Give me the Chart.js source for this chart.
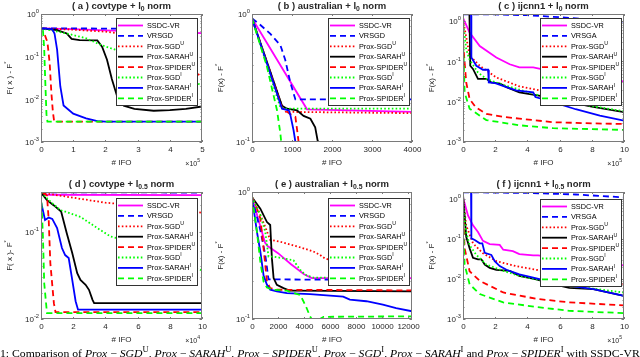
<!DOCTYPE html>
<html>
<head>
<meta charset="utf-8">
<script src="https://cdn.jsdelivr.net/npm/chart.js@4.4.1/dist/chart.umd.min.js"></script>
<style>
    html, body { margin: 0; padding: 0; background: #fff; }
    #fig { position: relative; width: 640px; height: 357px; overflow: hidden; }
    #fig canvas { position: absolute; }
    #caption {
        position: absolute; left: 0; top: 347px; white-space: nowrap;
        font: 11px "Liberation Serif", "DejaVu Serif", serif; line-height: 12px; color: #000;
        transform-origin: 0 0;
    }
    #caption sup { font-size: 8px; line-height: 0; }
</style>
</head>
<body>
<div id="fig">
    <canvas id="pa"></canvas>
    <canvas id="pb"></canvas>
    <canvas id="pc"></canvas>
    <canvas id="pd"></canvas>
    <canvas id="pe"></canvas>
    <canvas id="pf"></canvas>
    <div id="caption">1: Comparison of <i>Prox</i> − <i>SGD</i><sup>U</sup>, <i>Prox</i> − <i>SARAH</i><sup>U</sup>, <i>Prox</i> − <i>SPIDER</i><sup>U</sup>, <i>Prox</i> − <i>SGD</i><sup>I</sup>, <i>Prox</i> − <i>SARAH</i><sup>I</sup> and <i>Prox</i> − <i>SPIDER</i><sup>I</sup> with SSDC-VR</div>
</div>
<script>
// ---- data: [x, F(x)-F*] points ----
// legend labels (^ = superscript)
const LABELS = ['SSDC-VR', 'VRSGD', 'Prox-SGD^U', 'Prox-SARAH^U', 'Prox-SPIDER^U', 'Prox-SGD^I', 'Prox-SARAH^I', 'Prox-SPIDER^I'];
const LABELS_IJCNN = ['SSDC-VR', 'VRSGA', 'Prox-SGD^U', 'Prox-SARAH^U', 'Prox-SPIDER^U', 'Prox-SGD^I', 'Prox-SARAH^I', 'Prox-SPIDER^I'];

// (a) covtype + l0, x in 1e5 IFO
const A_SSDC = [[0, 0.46], [1, 0.44], [2, 0.415], [3, 0.39], [4, 0.37], [5, 0.355]];
const A_VRSGD = [[0, 0.46], [5, 0.45]];
const A_SGD_U = [[0, 0.46], [1, 0.43], [2, 0.385], [2.3, 0.36], [3, 0.24], [3.5, 0.16], [4, 0.1], [4.5, 0.06], [5, 0.034]];
const A_SARAH_U = [[0, 0.46], [0.5, 0.42], [0.8, 0.35], [0.95, 0.26], [1.2, 0.245], [1.75, 0.24], [1.9, 0.17], [2.05, 0.085], [2.2, 0.03], [2.36, 0.012], [2.57, 0.0071], [2.9, 0.006], [3.5, 0.0054], [4, 0.0056], [4.5, 0.006], [5, 0.0068]];
const A_SPIDER_U = [[0.12, 0.32], [0.2, 0.22], [0.27, 0.07], [0.32, 0.015], [0.37, 0.005], [0.41, 0.003], [5, 0.003]];
const A_SGD_I = [[0, 0.46], [0.8, 0.35], [1.4, 0.27], [1.85, 0.19], [2.3, 0.146], [3, 0.095], [3.5, 0.07], [4, 0.048], [4.5, 0.032], [5, 0.021]];
const A_SARAH_I = [[0, 0.46], [0.35, 0.44], [0.42, 0.35], [0.5, 0.146], [0.6, 0.02], [0.7, 0.0072], [1, 0.0046], [1.4, 0.0036], [1.75, 0.0031], [2, 0.003], [5, 0.003]];
const A_SPIDER_I = [[0.06, 0.42], [0.1, 0.15], [0.13, 0.03], [0.17, 0.0045], [0.2, 0.003], [5, 0.003]];

// (b) australian + l0
const B_SSDC = [[0, 0.925], [1375, 0.18], [4000, 0.172]];
const B_VRSGD = [[0, 0.925], [210, 0.82], [460, 0.7], [710, 0.57], [830, 0.44], [960, 0.29], [1085, 0.215], [4000, 0.215]];
const B_SGD_U = [[0, 0.925], [750, 0.19], [850, 0.172], [4000, 0.168]];
const B_SARAH_U = [[0, 0.925], [750, 0.192], [875, 0.182], [1125, 0.177], [1290, 0.16], [1460, 0.152], [1580, 0.13], [1640, 0.103], [1660, 0.1], [4000, 0.1]];
const B_SPIDER_U = [[0, 0.925], [750, 0.185], [960, 0.165], [1085, 0.157], [1140, 0.116], [1165, 0.1], [4000, 0.1]];
const B_SGD_I = [[0, 0.925], [710, 0.186], [800, 0.182], [4000, 0.182]];
const B_SARAH_I = [[0, 0.925], [750, 0.182], [920, 0.177], [960, 0.162], [1040, 0.123], [1085, 0.1], [4000, 0.1]];
const B_SPIDER_I = [[0, 0.925], [375, 0.386], [625, 0.177], [710, 0.116], [730, 0.1], [4000, 0.1]];

// (c) ijcnn1 + l0, x in 1e5 IFO
const C_SSDC = [[0, 1.2], [0.41, 0.52], [1.04, 0.24], [2.07, 0.125], [2.9, 0.085], [3.5, 0.071], [4.36, 0.071], [4.8, 0.065], [6, 0.052], [7, 0.045], [8, 0.04], [9, 0.035], [10, 0.032]];
const C_VRSGA = [[0, 1.48], [2, 1.46], [4, 1.4], [6, 1.25], [8, 1.08], [10, 0.94]];
const C_SGD_U = [[0, 1.1], [0.41, 0.14], [1.04, 0.078], [2.07, 0.04], [3.5, 0.024], [4.8, 0.019], [6, 0.018], [8, 0.0168], [10, 0.0158]];
const C_SARAH_U = [[0, 1.5], [0.4, 1.5], [0.45, 0.078], [0.62, 0.065], [0.93, 0.037], [1.45, 0.037], [1.76, 0.03], [2.3, 0.028], [2.7, 0.023], [3.5, 0.017], [4.8, 0.014], [6, 0.011], [8, 0.0075], [10, 0.0055]];
const C_SPIDER_U = [[0, 0.3], [0.2, 0.03], [0.41, 0.0117], [0.8, 0.0072], [1.45, 0.005], [2.5, 0.0042], [3.5, 0.0038], [5.6, 0.0031], [8, 0.0029], [10, 0.0028]];
const C_SGD_I = [[0, 1.0], [0.2, 0.2], [0.41, 0.11], [0.93, 0.053], [1.45, 0.037], [2.5, 0.026], [3.5, 0.02], [4.8, 0.014], [6, 0.011], [8, 0.0078], [10, 0.0058]];
const C_SARAH_I = [[0, 1.5], [0.5, 1.5], [0.52, 0.125], [0.83, 0.078], [1.24, 0.062], [1.56, 0.062], [1.6, 0.03], [2, 0.029], [2.7, 0.023], [3.3, 0.019], [4.36, 0.017], [4.5, 0.013], [5.6, 0.0098], [7, 0.0065], [8.5, 0.0045], [10, 0.0034]];
const C_SPIDER_I = [[0, 0.43], [0.1, 0.017], [0.41, 0.0067], [1.45, 0.0035], [3.5, 0.0026], [5.6, 0.0022], [10, 0.002]];

// (d) covtype + l0.5, x in 1e4 IFO
const D_SSDC = [[0, 0.265], [10, 0.262]];
const D_VRSGD = [[0, 0.283], [10, 0.281]];
const D_SGD_U = [[0, 0.28], [2, 0.245], [4, 0.215], [6, 0.2], [8, 0.185], [10, 0.165]];
const D_SARAH_U = [[0, 0.28], [0.37, 0.23], [0.8, 0.2], [1.25, 0.17], [1.6, 0.096], [1.94, 0.057], [2.25, 0.0335], [2.45, 0.028], [2.77, 0.0247], [2.98, 0.0216], [3.2, 0.0166], [3.3, 0.0152], [10, 0.0152]];
const D_SPIDER_U = [[0.1, 0.28], [0.37, 0.26], [0.48, 0.136], [0.58, 0.0435], [0.8, 0.0152], [0.9, 0.012], [10, 0.012]];
const D_SGD_I = [[0, 0.28], [0.6, 0.22], [1.2, 0.177], [2.45, 0.148], [3.5, 0.11], [4.33, 0.088], [5, 0.082], [6, 0.07], [7, 0.06], [8, 0.05], [9, 0.043], [10, 0.036]];
const D_SARAH_I = [[0, 0.22], [0.25, 0.136], [0.48, 0.145], [0.7, 0.14], [1.0, 0.11], [1.3, 0.065], [1.5, 0.054], [1.72, 0.05], [1.94, 0.028], [2.15, 0.016], [2.3, 0.0128], [10, 0.0128]];
const D_SPIDER_I = [[0, 0.28], [0.12, 0.088], [0.2, 0.0257], [0.37, 0.0117], [10, 0.0117]];

// (e) australian + l0.5
const E_SSDC = [[0, 0.91], [1000, 0.4], [1200, 0.375], [2000, 0.33], [3000, 0.27], [4000, 0.225], [4600, 0.21], [12300, 0.21]];
const E_VRSGD = [[0, 0.91], [640, 0.5], [1020, 0.32], [1270, 0.205], [11600, 0.203], [11700, 0.19], [12300, 0.19]];
const E_SGD_U = [[0, 0.91], [640, 0.66], [1020, 0.53], [1400, 0.42], [2170, 0.406], [3190, 0.38], [3950, 0.36], [4720, 0.34], [5220, 0.32], [5600, 0.3], [6500, 0.28], [8000, 0.26], [10000, 0.235], [12300, 0.212]];
const E_SARAH_U = [[0, 0.91], [640, 0.74], [1150, 0.58], [1400, 0.55], [1530, 0.3], [1660, 0.21], [1910, 0.186], [2420, 0.175], [2930, 0.167], [12300, 0.165]];
const E_SPIDER_U = [[0, 0.91], [380, 0.74], [640, 0.62], [890, 0.36], [1150, 0.197], [1400, 0.175], [1910, 0.17], [12300, 0.168]];
const E_SGD_I = [[0, 0.91], [640, 0.66], [1020, 0.486], [1270, 0.31], [1660, 0.31], [2420, 0.3], [3190, 0.29], [3440, 0.266], [3820, 0.236], [4200, 0.22], [4720, 0.212], [12300, 0.21]];
const E_SARAH_I = [[0, 0.91], [380, 0.486], [640, 0.34], [890, 0.22], [1150, 0.186], [1400, 0.17], [1910, 0.165], [2680, 0.16], [4460, 0.157], [7010, 0.15], [7520, 0.142], [8790, 0.138], [10060, 0.13], [11080, 0.122], [12300, 0.115]];
const E_SPIDER_I = [[0, 0.91], [380, 0.486], [640, 0.283], [890, 0.197], [1150, 0.177], [1660, 0.17], [2680, 0.167], [3190, 0.16], [3700, 0.155], [3950, 0.138], [4200, 0.122], [4460, 0.105], [4590, 0.1], [5220, 0.1], [5500, 0.104], [12300, 0.105]];

// (f) ijcnn1 + l0.5, x in 1e5 IFO
const F_SSDC = [[0, 1.1], [0.31, 0.39], [0.62, 0.22], [0.93, 0.15], [1.24, 0.09], [1.66, 0.075], [2.28, 0.071], [2.5, 0.054], [3.1, 0.05], [3.5, 0.042], [4.36, 0.039], [4.67, 0.039], [6, 0.033], [8, 0.027], [10, 0.022]];
const F_VRSGA = [[0, 1.48], [4, 1.42], [7, 1.3], [10, 1.1]];
const F_SGD_U = [[0, 1.1], [0.2, 0.22], [0.62, 0.078], [1.24, 0.044], [2.07, 0.028], [3.3, 0.021], [4.56, 0.017], [6, 0.014], [8, 0.01], [10, 0.0075]];
const F_SARAH_U = [[0, 1.3], [0.2, 0.114], [0.41, 0.059], [0.62, 0.034], [0.93, 0.031], [1.14, 0.031], [1.35, 0.023], [1.66, 0.019], [2.07, 0.017], [2.9, 0.016], [3.5, 0.012], [4.56, 0.0098], [5.6, 0.0074], [6.6, 0.006], [8.1, 0.0056], [10, 0.0038]];
const F_SPIDER_U = [[0, 0.57], [0.1, 0.059], [0.41, 0.0157], [1.04, 0.009], [2.5, 0.0046], [4.56, 0.0032], [6.6, 0.0026], [10, 0.0022]];
const F_SGD_I = [[0, 0.69], [0.2, 0.15], [0.41, 0.07], [0.83, 0.04], [1.45, 0.023], [2.5, 0.016], [3.5, 0.012], [4.56, 0.0098], [6.6, 0.0068], [10, 0.0046]];
const F_SARAH_I = [[0, 1.5], [0.5, 1.5], [0.52, 0.104], [0.73, 0.095], [1.04, 0.078], [1.2, 0.078], [1.35, 0.045], [1.76, 0.04], [1.97, 0.028], [2.28, 0.021], [2.7, 0.017], [3.5, 0.013], [4.36, 0.0108], [5.6, 0.0082], [6.6, 0.0068], [8.1, 0.0056], [10, 0.0038]];
const F_SPIDER_I = [[0, 0.32], [0.1, 0.023], [0.41, 0.0074], [1.04, 0.0042], [2.5, 0.0026], [4.56, 0.002], [6.6, 0.0016], [10, 0.0014]];

// tick values
const X_TICKS_A = [0, 1, 2, 3, 4, 5];
const X_TICKS_B = [0, 1000, 2000, 3000, 4000];
const X_TICKS_10 = [0, 2, 4, 6, 8, 10];
const X_TICKS_E = [0, 2000, 4000, 6000, 8000, 10000, 12000];
const Y_TICKS_4 = [1, 0.1, 0.01, 0.001];
const Y_TICKS_B = [1, 0.1];
const Y_TICKS_D = [0.1, 0.01];

// line styles, same order as LABELS
const STYLES = [
    { color: '#ff00ff', dash: [] },
    { color: '#0000ff', dash: [6, 4] },
    { color: '#ff0000', dash: [1.6, 2.2] },
    { color: '#000000', dash: [] },
    { color: '#ff0000', dash: [6, 4] },
    { color: '#00ff00', dash: [1.6, 2.2] },
    { color: '#0000ff', dash: [] },
    { color: '#00ff00', dash: [6, 4] }
];

const AXIS = '#262626';
const FONT = '"Liberation Sans", Arial, Helvetica, sans-serif';

// L/T/R/B = plot box on the page
const PANELS = [
    { id: 'pa', L: 41, T: 14, R: 202, B: 142, title: '( a ) covtype + l_0 norm', ylab: 'F( x ) - F^*', xMax: 5, xTicks: X_TICKS_A, yMin: 0.001, yMax: 1, yTicks: Y_TICKS_4, mult: '×10^5', labels: LABELS, lg: [86, 4],
      series: [A_SSDC, A_VRSGD, A_SGD_U, A_SARAH_U, A_SPIDER_U, A_SGD_I, A_SARAH_I, A_SPIDER_I] },
    { id: 'pb', L: 252, T: 14, R: 412, B: 142, title: '( b ) australian + l_0 norm', ylab: 'F(x) - F^*', xMax: 4000, xTicks: X_TICKS_B, yMin: 0.1, yMax: 1, yTicks: Y_TICKS_B, mult: null, labels: LABELS, lg: [84, 4],
      series: [B_SSDC, B_VRSGD, B_SGD_U, B_SARAH_U, B_SPIDER_U, B_SGD_I, B_SARAH_I, B_SPIDER_I] },
    { id: 'pc', L: 463, T: 14, R: 624, B: 142, title: '( c ) ijcnn1 + l_0 norm', ylab: 'F(x) - F^*', xMax: 10, xTicks: X_TICKS_10, yMin: 0.001, yMax: 1.5, yTicks: Y_TICKS_4, mult: '×10^5', labels: LABELS_IJCNN, lg: [84, 4],
      series: [C_SSDC, C_VRSGA, C_SGD_U, C_SARAH_U, C_SPIDER_U, C_SGD_I, C_SARAH_I, C_SPIDER_I] },
    { id: 'pd', L: 41, T: 192, R: 202, B: 319, title: '( d ) covtype + l_{0.5} norm', ylab: 'F( x )- F^*', xMax: 10, xTicks: X_TICKS_10, yMin: 0.01, yMax: 0.285, yTicks: Y_TICKS_D, mult: '×10^4', labels: LABELS, lg: [86, 6],
      series: [D_SSDC, D_VRSGD, D_SGD_U, D_SARAH_U, D_SPIDER_U, D_SGD_I, D_SARAH_I, D_SPIDER_I] },
    { id: 'pe', L: 252, T: 192, R: 412, B: 319, title: '( e ) australian + l_{0.5} norm', ylab: 'F(x) - F^*', xMax: 12300, xTicks: X_TICKS_E, yMin: 0.1, yMax: 1, yTicks: Y_TICKS_B, mult: null, labels: LABELS, lg: [84, 6],
      series: [E_SSDC, E_VRSGD, E_SGD_U, E_SARAH_U, E_SPIDER_U, E_SGD_I, E_SARAH_I, E_SPIDER_I] },
    { id: 'pf', L: 463, T: 192, R: 624, B: 319, title: '( f ) ijcnn1 + l_{0.5} norm', ylab: 'F(x) - F^*', xMax: 10, xTicks: X_TICKS_10, yMin: 0.001, yMax: 1.5, yTicks: Y_TICKS_4, mult: '×10^5', labels: LABELS_IJCNN, lg: [84, 7],
      series: [F_SSDC, F_VRSGA, F_SGD_U, F_SARAH_U, F_SPIDER_U, F_SGD_I, F_SARAH_I, F_SPIDER_I] }
];

/**
 * Split a label into normal / superscript / subscript runs.
 * "l_{0.5}" -> l + sub(0.5), "F^*" -> F + sup(*)
 */
function parseRich(str) {
    const parts = [];
    let buf = '';
    let i = 0;
    while (i < str.length) {
        const c = str[i];
        if (c === '^' || c === '_') {
            if (buf) parts.push({ t: buf, k: 0 });
            buf = '';
            let s;
            if (str[i + 1] === '{') {
                const j = str.indexOf('}', i);
                s = str.slice(i + 2, j);
                i = j + 1;
            } else {
                s = str[i + 1];
                i += 2;
            }
            parts.push({ t: s, k: c === '^' ? 1 : -1 });
        } else {
            buf += c;
            i++;
        }
    }
    if (buf) parts.push({ t: buf, k: 0 });
    return parts;
}

function drawRich(ctx, str, x, y, size, bold, align) {
    const parts = parseRich(str);
    const fnt = s => (bold ? 'bold ' : '') + s + 'px ' + FONT;
    let w = 0;
    parts.forEach(p => {
        p.size = p.k ? size * 0.72 : size;
        ctx.font = fnt(p.size);
        p.w = ctx.measureText(p.t).width;
        w += p.w;
    });
    let cx = align === 'center' ? x - w / 2 : (align === 'right' ? x - w : x);
    ctx.textAlign = 'left';
    ctx.textBaseline = 'middle';
    parts.forEach(p => {
        ctx.font = fnt(p.size);
        const dy = p.k === 1 ? -size * 0.42 : (p.k === -1 ? size * 0.32 : 0);
        ctx.fillText(p.t, cx, y + dy);
        cx += p.w;
    });
    return w;
}

// MATLAB-like axes box, ticks, labels and legend
function overlay(p) {
    return {
        id: 'overlay',
        afterDraw(chart) {
            const ctx = chart.ctx;
            const a = chart.chartArea;
            const xs = chart.scales.x;
            const ys = chart.scales.y;
            ctx.save();

            ctx.strokeStyle = '#7a7a7a';
            ctx.lineWidth = 1;
            ctx.setLineDash([]);
            ctx.strokeRect(a.left + 0.5, a.top + 0.5, a.right - a.left - 1, a.bottom - a.top - 1);

            // x ticks
            ctx.fillStyle = AXIS;
            ctx.beginPath();
            xs.ticks.forEach(t => {
                const px = Math.round(xs.getPixelForValue(t.value)) + 0.5;
                ctx.moveTo(px, a.bottom); ctx.lineTo(px, a.bottom - 2);
                ctx.moveTo(px, a.top); ctx.lineTo(px, a.top + 2);
                drawRich(ctx, String(t.value), px, a.bottom + 8, 8, false, 'center');
            });
            // y ticks (major + minor)
            const lo = Math.floor(Math.log10(p.yMin));
            const hi = Math.ceil(Math.log10(p.yMax));
            for (let d = lo; d <= hi; d++) {
                for (let k = 1; k <= 9; k++) {
                    const v = k * Math.pow(10, d);
                    if (v < p.yMin * 0.999 || v > p.yMax * 1.001) continue;
                    const py = Math.round(ys.getPixelForValue(v)) + 0.5;
                    const len = k === 1 ? 2.5 : 1.5;
                    ctx.moveTo(a.left, py); ctx.lineTo(a.left + len, py);
                    ctx.moveTo(a.right, py); ctx.lineTo(a.right - len, py);
                }
            }
            ctx.stroke();
            p.yTicks.forEach(v => {
                const py = ys.getPixelForValue(v);
                drawRich(ctx, '10^{' + Math.round(Math.log10(v)) + '}', a.left - 2, py + 1, 8, false, 'right');
            });

            // title, axis labels
            const cx = (a.left + a.right) / 2;
            drawRich(ctx, p.title, cx, a.top - 8, 9.5, true, 'center');
            drawRich(ctx, '# IFO', cx, a.bottom + 21, 8, false, 'center');
            if (p.mult) drawRich(ctx, p.mult, a.right - 2, a.bottom + 22, 7, false, 'right');
            ctx.save();
            ctx.translate(a.left - 31, (a.top + a.bottom) / 2);
            ctx.rotate(-Math.PI / 2);
            drawRich(ctx, p.ylab, 0, 0, 8, false, 'center');
            ctx.restore();

            // legend
            const lw = 82, lh = 88, rowH = 10.4;
            const lx = a.right - p.lg[0];
            const ly = a.top + p.lg[1];
            ctx.fillStyle = '#fff';
            ctx.fillRect(lx, ly, lw, lh);
            ctx.strokeStyle = '#333';
            ctx.strokeRect(lx + 0.5, ly + 0.5, lw - 1, lh - 1);
            p.labels.forEach((lab, i) => {
                const yy = ly + 7.5 + i * rowH;
                ctx.strokeStyle = STYLES[i].color;
                ctx.lineWidth = 1.8;
                ctx.setLineDash(STYLES[i].dash);
                ctx.beginPath();
                ctx.moveTo(lx + 2, yy);
                ctx.lineTo(lx + 27, yy);
                ctx.stroke();
                ctx.fillStyle = '#000';
                drawRich(ctx, lab, lx + 31, yy + 0.5, 7.3, false, 'left');
            });
            ctx.restore();
        }
    };
}

function makeChart(p) {
    const cv = document.getElementById(p.id);
    const W = p.R - p.L + 51;
    const H = p.B - p.T + 44;
    cv.width = W;
    cv.height = H;
    cv.style.width = W + 'px';
    cv.style.height = H + 'px';
    cv.style.left = (p.L - 41) + 'px';
    cv.style.top = (p.T - 14) + 'px';

    new Chart(cv, {
        type: 'line',
        data: {
            datasets: p.series.map((s, i) => ({
                label: p.labels[i].replace('^', ''),
                data: s.map(pt => ({ x: pt[0], y: pt[1] })),
                borderColor: STYLES[i].color,
                borderDash: STYLES[i].dash,
                borderWidth: 1.8,
                pointRadius: 0,
                tension: 0,
                fill: false,
                order: 7 - i
            }))
        },
        options: {
            responsive: false,
            animation: false,
            devicePixelRatio: 1,
            layout: { padding: { left: 0, top: 14, right: 10, bottom: 0 } },
            plugins: {
                legend: { display: false },
                tooltip: { enabled: false }
            },
            scales: {
                x: {
                    type: 'linear',
                    min: 0,
                    max: p.xMax,
                    grid: { display: false, drawTicks: false },
                    border: { display: false },
                    ticks: { display: false, autoSkip: false },
                    afterBuildTicks: s => { s.ticks = p.xTicks.map(v => ({ value: v })); },
                    afterFit: s => { s.height = 30; }
                },
                y: {
                    type: 'logarithmic',
                    min: p.yMin,
                    max: p.yMax,
                    grid: { display: false, drawTicks: false },
                    border: { display: false },
                    ticks: { display: false },
                    afterFit: s => { s.width = 41; }
                }
            }
        },
        plugins: [overlay(p)]
    });
}

PANELS.forEach(makeChart);

// stretch the caption line over the page width
const cap = document.getElementById('caption');
cap.style.transform = 'scaleX(' + (640 / cap.scrollWidth) + ')';
</script>
</body>
</html>
